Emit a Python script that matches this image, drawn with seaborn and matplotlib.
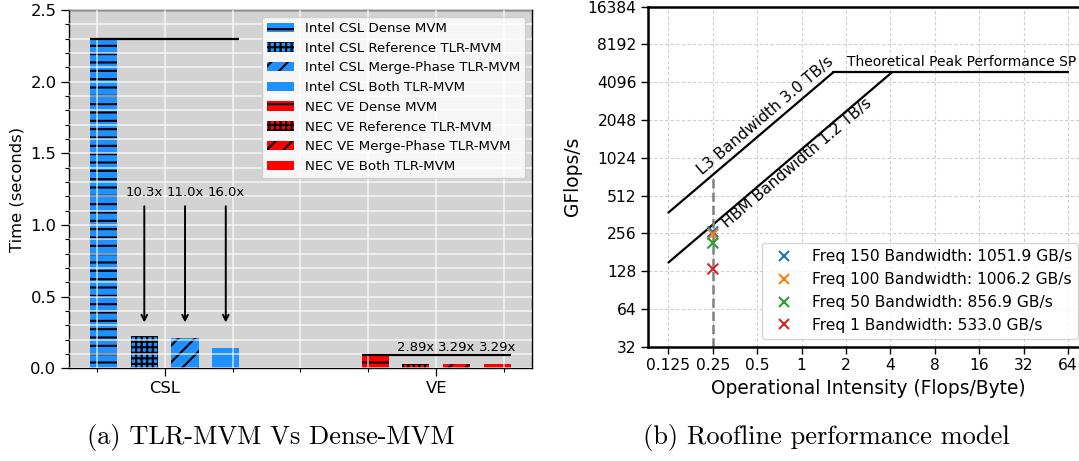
import numpy as np
import pandas as pd
import matplotlib
matplotlib.use("Agg")
import matplotlib.pyplot as plt
import seaborn as sns
from matplotlib.patches import Patch
from matplotlib.ticker import MultipleLocator, FixedLocator, NullLocator

# ---------------- data: left panel ----------------
groups = ["CSL", "VE"]
series_prefix = ["Intel CSL", "NEC VE"]
variants = ["Dense MVM", "Reference TLR-MVM", "Merge-Phase TLR-MVM", "Both TLR-MVM"]
csl_times = [2.30, 0.2233, 0.2091, 0.1437]
ve_times = [0.095, 0.0329, 0.0289, 0.0289]
csl_speedups = ["10.3x", "11.0x", "16.0x"]
ve_speedups = ["2.89x", "3.29x", "3.29x"]
time_ticks = [0.0, 0.5, 1.0, 1.5, 2.0, 2.5]

# ---------------- data: right panel ----------------
intensity_ticks = [0.125, 0.25, 0.5, 1, 2, 4, 8, 16, 32, 64]
intensity_labels = ["0.125", "0.25", "0.5", "1", "2", "4", "8", "16", "32", "64"]
gflops_ticks = [32, 64, 128, 256, 512, 1024, 2048, 4096, 8192, 16384]
peak_gflops = 4915.2
l3_bw = 3000.0    # GB/s
hbm_bw = 1200.0   # GB/s
freqs = [150, 100, 50, 1]
measured_bw = [1051.9, 1006.2, 856.9, 533.0]
measured_oi = 0.25

# ---------------- style ----------------
sns.set_style("ticks", {"axes.edgecolor": "black", "text.color": "black",
                        "axes.labelcolor": "black", "xtick.color": "black",
                        "ytick.color": "black"})
plt.rcParams["font.family"] = ["DejaVu Sans"]
plt.rcParams["hatch.linewidth"] = 1.5

colors = ["dodgerblue", "red"]
hatches = ["--", "+++", "//", ""]

fig = plt.figure(figsize=(10.79, 4.61), dpi=100)
ax1 = fig.add_axes([0.0639, 0.2011, 0.4291, 0.7772])
ax2 = fig.add_axes([0.601, 0.248, 0.4074, 0.7375])

# ---------------- left panel ----------------
offsets = [-0.225, -0.075, 0.075, 0.225]
rows = []
for gi, (g, pref, times) in enumerate(zip(groups, series_prefix, [csl_times, ve_times])):
    for vi, (v, t) in enumerate(zip(variants, times)):
        rows.append({"pos": gi + offsets[vi], "time": t, "label": f"{pref} {v}",
                     "color": colors[gi], "hatch": hatches[vi]})
df = pd.DataFrame(rows)
labels = list(df["label"])
palette = dict(zip(df["label"], df["color"]))

ax1.set_facecolor("lightgray")
sns.barplot(data=df, x="pos", y="time", hue="label", hue_order=labels,
            palette=palette, native_scale=True, width=0.1 / 0.15, dodge=False,
            errorbar=None, legend=False, saturation=1, ax=ax1,
            edgecolor="black", linewidth=0)
positions = df["pos"].to_numpy()
for p in ax1.patches:
    c = p.get_x() + p.get_width() / 2
    i = int(np.argmin(np.abs(positions - c)))
    p.set_hatch(df["hatch"].iloc[i])
    p.set_edgecolor("black")
    p.set_linewidth(0)
    p.set_zorder(1)

ax1.set_xlim(-0.3525, 1.3525)
ax1.set_ylim(0, 2.5)
ax1.xaxis.set_major_locator(FixedLocator([0, 1]))
ax1.set_xticklabels(groups)
ax1.xaxis.set_minor_locator(FixedLocator([-0.25, 0.25, 0.5, 0.75, 1.25]))
ax1.yaxis.set_major_locator(FixedLocator(time_ticks))
ax1.yaxis.set_minor_locator(MultipleLocator(0.1))
ax1.set_yticklabels([f"{t:.1f}" for t in time_ticks])
ax1.set_axisbelow(False)
ax1.grid(True, which="both", color="white", lw=1.1, alpha=0.75)
ax1.set_xlabel("")
ax1.set_ylabel("Time (seconds)", fontsize=11.8)
ax1.tick_params(axis="both", which="major", labelsize=11.8, length=5.5, width=0.9)
ax1.tick_params(axis="both", which="minor", length=3, width=0.8)
for s in ax1.spines.values():
    s.set_linewidth(1.0)
    s.set_color("black")

for gi, times in enumerate([csl_times, ve_times]):
    ax1.hlines(times[0], gi + offsets[0] - 0.05, gi + offsets[-1] + 0.05,
               color="black", lw=1.6, zorder=6)

for vi, txt in enumerate(csl_speedups):
    x = offsets[vi + 1]
    ax1.text(x, 1.2, txt, ha="center", va="baseline", fontsize=9.5, zorder=5)
    ax1.annotate("", xy=(x, 0.3), xytext=(x, 1.15),
                 arrowprops=dict(arrowstyle="->", lw=1.4, color="black"), zorder=5)
for vi, txt in enumerate(ve_speedups):
    x = 1 + offsets[vi + 1]
    ax1.text(x, 0.12, txt, ha="center", va="baseline", fontsize=9.5, zorder=5)

handles = [Patch(facecolor=r["color"], hatch=r["hatch"], edgecolor="black",
                 linewidth=0, label=r["label"]) for _, r in df.iterrows()]
ax1.legend(handles=handles, loc="upper right", fontsize=9.65)

# ---------------- right panel ----------------
ax2.set_xscale("log", base=2)
ax2.set_yscale("log", base=2)
ax2.set_xlim(2 ** -3.45, 2 ** 6.45)
ax2.set_ylim(32, 16384)
ax2.grid(True, which="major", color="#cfcfcf", lw=0.8, linestyle=(0, (3, 2)), zorder=0)
ax2.set_axisbelow(True)

l3_knee = peak_gflops / l3_bw
hbm_knee = peak_gflops / hbm_bw
x0 = intensity_ticks[0]
x1 = intensity_ticks[-1]
ax2.plot([x0, l3_knee], [x0 * l3_bw, peak_gflops], color="black", lw=1.6)
ax2.plot([x0, hbm_knee], [x0 * hbm_bw, peak_gflops], color="black", lw=1.6)
ax2.plot([l3_knee, x1], [peak_gflops, peak_gflops], color="black", lw=1.6)
ax2.plot([measured_oi, measured_oi], [32, measured_oi * l3_bw], color="gray",
         lw=1.8, linestyle="--")

pts = pd.DataFrame({
    "oi": [measured_oi] * len(freqs),
    "gflops": [b * measured_oi for b in measured_bw],
    "label": [f"Freq {f} Bandwidth: {b:.1f} GB/s" for f, b in zip(freqs, measured_bw)],
})
sns.scatterplot(data=pts, x="oi", y="gflops", hue="label",
                palette=sns.color_palette("tab10", len(freqs)), marker="x",
                s=60, linewidth=1.5, ax=ax2, zorder=5)
pos2 = ax2.get_position()
fw, fh = fig.get_size_inches() * fig.dpi
leg_x = (1078 / fw - pos2.x0) / pos2.width
leg_y = ((fh - 339) / fh - pos2.y0) / pos2.height
sns.move_legend(ax2, "lower right", bbox_to_anchor=(leg_x, leg_y),
                borderaxespad=0, title=None, fontsize=11.2)

ax2.xaxis.set_major_locator(FixedLocator(intensity_ticks))
ax2.xaxis.set_minor_locator(NullLocator())
ax2.set_xticklabels(intensity_labels)
ax2.yaxis.set_major_locator(FixedLocator(gflops_ticks))
ax2.yaxis.set_minor_locator(NullLocator())
ax2.set_yticklabels([str(v) for v in gflops_ticks])
ax2.tick_params(axis="both", which="major", labelsize=11.2, length=5, width=1.0)
ax2.set_xlabel("Operational Intensity (Flops/Byte)", fontsize=13.4)
ax2.set_ylabel("GFlops/s", fontsize=13.4)
for s in ax2.spines.values():
    s.set_linewidth(1.8)
    s.set_color("black")


def screen_angle(ax, xa, ya, xb, yb):
    pa = ax.transData.transform((xa, ya))
    pb = ax.transData.transform((xb, yb))
    return np.degrees(np.arctan2(pb[1] - pa[1], pb[0] - pa[0]))


ang = screen_angle(ax2, x0, x0 * l3_bw, l3_knee, peak_gflops)
ax2.text(0.212, 0.212 * l3_bw * 1.17, "L3 Bandwidth 3.0 TB/s", rotation=ang,
         rotation_mode="anchor", ha="left", va="baseline", fontsize=11.2)
ax2.text(0.315, 0.315 * hbm_bw * 0.75, "HBM Bandwidth 1.2 TB/s", rotation=ang,
         rotation_mode="anchor", ha="left", va="baseline", fontsize=11.2)
ax2.text(2.02, peak_gflops * 1.07, "Theoretical Peak Performance SP",
         ha="left", va="bottom", fontsize=10)

# ---------------- captions ----------------
fig.text(0.251, 0.052, "(a) TLR-MVM Vs Dense-MVM", ha="center", va="center",
         fontsize=19, family=["cmr10", "DejaVu Serif"])
fig.text(0.766, 0.052, "(b) Roofline performance model", ha="center", va="center",
         fontsize=19, family=["cmr10", "DejaVu Serif"])

fig.savefig("out.png", dpi=100)
